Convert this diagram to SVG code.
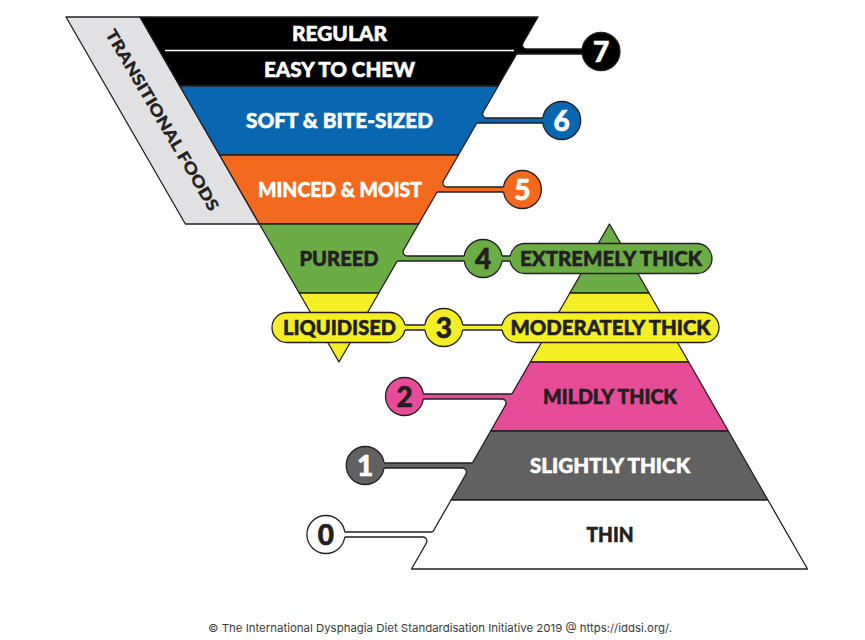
<svg xmlns="http://www.w3.org/2000/svg" width="865" height="640" viewBox="0 0 865 640">
<style>
.lbl{font-family:Lato,"Liberation Sans",sans-serif;font-weight:900;font-size:20.5px;text-anchor:middle;stroke-width:0.55}
.num{font-family:Lato,"Liberation Sans",sans-serif;font-weight:900;font-size:28px;text-anchor:middle;stroke-width:0.6}
.w{fill:#ffffff;stroke:#ffffff}
.d{fill:#231f20;stroke:#231f20}
.ol{fill:none;stroke:#231f20;stroke-width:1.3;stroke-linejoin:round}
.sh{stroke:#231f20;stroke-width:1.3;stroke-linejoin:round}
.k{fill:#000000}.b{fill:#0967b2}.o{fill:#f36a1e}.g{fill:#6bad44}.y{fill:#f4ef25}.p{fill:#e64c97}.gr{fill:#616162}.wh{fill:#ffffff}
.foot{font-family:Inter,"Liberation Sans",sans-serif;font-size:11px;fill:#3a3a3a;text-anchor:middle}
</style>
<rect width="865" height="640" fill="#ffffff"/>

<g id="transitional-foods">
<polygon points="66,17 140,17 259.4,224 185.4,224" fill="#e1e1e3" class="sh"/>
<text class="lbl d" style="font-size:16px;stroke-width:0.3" transform="translate(162.5,120) rotate(59.6)" x="0" y="5.8" textLength="207" lengthAdjust="spacingAndGlyphs">TRANSITIONAL FOODS</text>
</g>

<g id="food-7-regular-easy">
<polygon class="k sh" points="140,17 538,17 498.2,86 179.8,86"/>
<line x1="165" y1="50.5" x2="514" y2="50.5" stroke="#ffffff" stroke-width="1.5"/>
<text class="lbl w" x="339.5" y="41.4" textLength="95" lengthAdjust="spacingAndGlyphs">REGULAR</text>
<text class="lbl w" x="339.5" y="77.4" textLength="151" lengthAdjust="spacingAndGlyphs">EASY TO CHEW</text>
</g>
<g id="food-6-soft">
<polygon class="b sh" points="179.8,86 498.2,86 458.4,155 219.6,155"/>
<text class="lbl w" x="339.5" y="128.4" textLength="187" lengthAdjust="spacingAndGlyphs">SOFT &amp; BITE-SIZED</text>
</g>
<g id="food-5-minced">
<polygon class="o sh" points="219.6,155 458.4,155 418.6,224 259.4,224"/>
<text class="lbl w" x="340" y="196.9" textLength="164" lengthAdjust="spacingAndGlyphs">MINCED &amp; MOIST</text>
</g>
<g id="food-4-pureed">
<polygon class="g sh" points="259.4,224 418.6,224 378.8,293 299.2,293"/>
<text class="lbl d" x="339" y="265.9" textLength="79" lengthAdjust="spacingAndGlyphs">PUREED</text>
</g>
<g id="food-3-liquidised-band">
<polygon class="y sh" points="299.2,293 378.8,293 339,362"/>
</g>

<g id="drink-4-extremely-band">
<polygon class="g sh" points="609.5,224 649.1,293 569.9,293"/>
</g>
<g id="drink-3-moderately-band">
<polygon class="y sh" points="569.9,293 649.1,293 688.7,362 530.3,362"/>
</g>
<g id="drink-2-mildly">
<polygon class="p sh" points="530.3,362 688.7,362 728.3,431 490.7,431"/>
<text class="lbl d" x="610" y="404" textLength="134" lengthAdjust="spacingAndGlyphs">MILDLY THICK</text>
</g>
<g id="drink-1-slightly">
<polygon class="gr sh" points="490.7,431 728.3,431 767.9,500 451.1,500"/>
<text class="lbl w" x="610" y="472.9" textLength="160" lengthAdjust="spacingAndGlyphs">SLIGHTLY THICK</text>
</g>
<g id="drink-0-thin">
<polygon class="wh sh" points="451.1,500 767.9,500 807.5,569 411.5,569"/>
<text class="lbl d" x="610" y="542.1" textLength="47" lengthAdjust="spacingAndGlyphs">THIN</text>
</g>

<g id="pill-liquidised">
<rect class="y sh" x="272" y="312.5" width="133" height="30" rx="15"/>
<text class="lbl d" x="339.5" y="334.9" textLength="113" lengthAdjust="spacingAndGlyphs">LIQUIDISED</text>
</g>
<g id="pill-extremely-thick">
<rect class="g sh" x="510" y="243.5" width="202" height="30" rx="15"/>
<text class="lbl d" x="611" y="265.9" textLength="182" lengthAdjust="spacingAndGlyphs">EXTREMELY THICK</text>
</g>
<g id="pill-moderately-thick">
<rect class="y sh" x="502" y="312.5" width="217" height="30" rx="15"/>
<text class="lbl d" x="610.5" y="334.9" textLength="200" lengthAdjust="spacingAndGlyphs">MODERATELY THICK</text>
</g>

<g id="circle-7"><circle class="k sh" cx="601" cy="51.5" r="19"/><text class="num w" x="601" y="61.6">7</text></g>
<g id="circle-6"><circle class="b sh" cx="561.7" cy="120.5" r="19"/><text class="num w" x="561.7" y="130.6">6</text></g>
<g id="circle-5"><circle class="o sh" cx="522.4" cy="189.5" r="19"/><text class="num w" x="522.4" y="199.6">5</text></g>
<g id="circle-4"><circle class="g sh" cx="483.1" cy="258.5" r="19"/><text class="num d" x="483.1" y="268.6">4</text></g>
<g id="circle-3"><circle class="y sh" cx="443.8" cy="327.5" r="19"/><text class="num d" x="443.8" y="337.6">3</text></g>
<g id="circle-2"><circle class="p sh" cx="404.5" cy="396.5" r="19"/><text class="num d" x="404.5" y="406.6">2</text></g>
<g id="circle-1"><circle class="gr sh" cx="365.2" cy="465.5" r="19"/><text class="num w" x="365.2" y="475.6">1</text></g>
<g id="circle-0"><circle class="wh sh" cx="325.9" cy="534.5" r="19"/><text class="num d" x="325.9" y="544.6">0</text></g>

<g id="connectors">
<rect class="k" x="514" y="49" width="70" height="5"/>
<path class="k" d="M523,43 A4,4 0 0 0 526.47,49 L526.47,51 L517.5,51 L521.27,42 Z"/>
<path class="ol" d="M523,43 A4,4 0 0 0 526.47,49 L582.17,49 M516.66,54 L582.17,54"/>
<rect class="b" x="474" y="118" width="71" height="5"/>
<path class="b" d="M483.2,112 A4,4 0 0 0 486.67,118 L486.67,120 L477.74,120 L481.47,111 Z"/>
<path class="ol" d="M483.2,112 A4,4 0 0 0 486.67,118 L542.87,118 M476.86,123 L542.87,123"/>
<rect class="o" x="434" y="187" width="72" height="5"/>
<path class="o" d="M443.4,181 A4,4 0 0 0 446.87,187 L446.87,189 L437.94,189 L441.67,180 Z"/>
<path class="ol" d="M443.4,181 A4,4 0 0 0 446.87,187 L503.57,187 M437.06,192 L503.57,192"/>
<rect class="g" x="394" y="256" width="72" height="5"/>
<path class="g" d="M403.6,250 A4,4 0 0 0 407.07,256 L407.07,258 L398.14,258 L401.87,249 Z"/>
<path class="ol" d="M403.6,250 A4,4 0 0 0 407.07,256 L464.27,256 M397.26,261 L464.27,261"/>
<rect class="g" x="500" y="256" width="12" height="5"/>
<path class="ol" d="M501.93,256 L510.3,256 M501.93,261 L510.3,261"/>
<rect class="y" x="403" y="325" width="24" height="5"/>
<path class="ol" d="M405,325 L424.97,325 M405,330 L424.97,330"/>
<rect class="y" x="460.5" y="325" width="43.5" height="5"/>
<path class="ol" d="M462.63,325 L502.2,325 M462.63,330 L502.2,330"/>
<rect class="p" x="421" y="394" width="93.5" height="5"/>
<path class="p" d="M505.62,405 A4,4 0 0 0 502.14,399 L502.14,397 L512.2,397 L507.35,406 Z"/>
<path class="ol" d="M505.62,405 A4,4 0 0 0 502.14,399 L423.33,399 M423.33,394 L511.94,394"/>
<rect class="gr" x="382" y="463" width="93" height="5"/>
<path class="gr" d="M466.02,474 A4,4 0 0 0 462.54,468 L462.54,466 L472.62,466 L467.75,475 Z"/>
<path class="ol" d="M466.02,474 A4,4 0 0 0 462.54,468 L384.03,468 M384.03,463 L472.34,463"/>
<rect class="wh" x="342.5" y="532" width="93" height="5"/>
<path class="wh" d="M426.42,543 A4,4 0 0 0 422.94,537 L422.94,535 L433.02,535 L428.15,544 Z"/>
<path class="ol" d="M426.42,543 A4,4 0 0 0 422.94,537 L344.73,537 M344.73,532 L432.74,532"/>
</g>

<text class="foot" x="440" y="631.5" textLength="464" lengthAdjust="spacingAndGlyphs">© The International Dysphagia Diet Standardisation Initiative 2019 @ https://iddsi.org/.</text>
</svg>
